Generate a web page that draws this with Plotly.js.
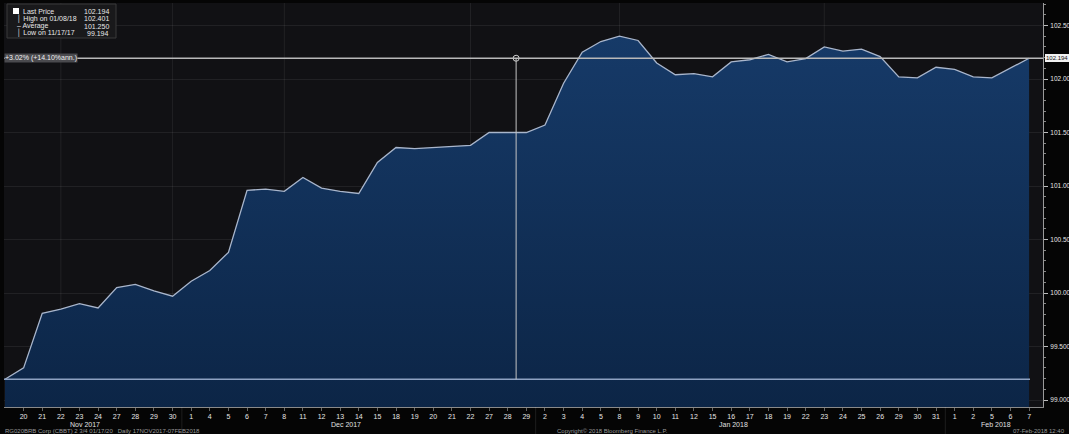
<!DOCTYPE html>
<html>
<head>
<meta charset="utf-8">
<script src="https://cdn.plot.ly/plotly-3.0.1.min.js"></script>
<style>
html,body{margin:0;padding:0;background:#050505;}
#chart{width:1069px;height:434px;}
</style>
</head>
<body>
<div id="chart"></div>
<script>
// ---- data ----
const dates = ['2017-11-17','2017-11-20','2017-11-21','2017-11-22','2017-11-23','2017-11-24','2017-11-27','2017-11-28','2017-11-29','2017-11-30',
  '2017-12-01','2017-12-04','2017-12-05','2017-12-06','2017-12-07','2017-12-08','2017-12-11','2017-12-12','2017-12-13','2017-12-14',
  '2017-12-15','2017-12-18','2017-12-19','2017-12-20','2017-12-21','2017-12-22','2017-12-27','2017-12-28','2017-12-29',
  '2018-01-02','2018-01-03','2018-01-04','2018-01-05','2018-01-08','2018-01-09','2018-01-10','2018-01-11','2018-01-12',
  '2018-01-15','2018-01-16','2018-01-17','2018-01-18','2018-01-19','2018-01-22','2018-01-23','2018-01-24','2018-01-25','2018-01-26',
  '2018-01-29','2018-01-30','2018-01-31','2018-02-01','2018-02-02','2018-02-05','2018-02-06','2018-02-07'];
const prices = [99.194, 99.30, 99.81, 99.85, 99.90, 99.86, 100.05, 100.08, 100.02, 99.97,
  100.11, 100.21, 100.38, 100.96, 100.97, 100.95, 101.08, 100.98, 100.95, 100.93,
  101.22, 101.36, 101.35, 101.36, 101.37, 101.38, 101.50, 101.50, 101.50,
  101.57, 101.96, 102.25, 102.35, 102.401, 102.36, 102.15, 102.04, 102.05,
  102.02, 102.16, 102.18, 102.23, 102.16, 102.19, 102.30, 102.26, 102.28, 102.21,
  102.02, 102.01, 102.11, 102.09, 102.02, 102.01, 102.10, 102.194];
const dayLabels = ['', '20','21','22','23','24','27','28','29','30',
  '1','4','5','6','7','8','11','12','13','14',
  '15','18','19','20','21','22','27','28','29',
  '2','3','4','5','8','9','10','11','12',
  '15','16','17','18','19','22','23','24','25','26',
  '29','30','31','1','2','5','6','7'];
const monthLabels = ['Nov 2017','Dec 2017','Jan 2018','Feb 2018'];
const monthLabelPos = [4.3, 18.3, 39.1, 53.2];
const monthBreaks = [9.5, 28.5, 50.5];
const yTickVals = [99.0, 99.5, 100.0, 100.5, 101.0, 101.5, 102.0, 102.5];
const yTickText = ['99.000','99.500','100.00','100.50','101.00','101.50','102.00','102.50'];
const legendNames = ['Last Price','High on 01/08/18','Average','Low on 11/17/17'];
const legendValues = ['102.194','102.401','101.250','99.194'];
const lastPrice = 102.194, lowPrice = 99.194;
const cursorIdx = 27.45;
const vGrid = [3, 9, 15, 25, 33, 44];

const idx = prices.map((_, i) => i);

// pixel helpers (plot area: x 4..1043, y 3..407)
const L = 4, R = 1043, T = 3, B = 407;
const px = x => (x - L) / (R - L);
const py = y => (B - y) / (B - T);

const font = 'Liberation Sans, Arial, sans-serif';

const traces = [
  {
    x: idx, y: prices, type: 'scatter', mode: 'lines',
    line: {color: '#a9b6cc', width: 1.3},
    fill: 'tozeroy',
    fillcolor: '#12315a',
    fillgradient: {type: 'vertical', colorscale: [[0, '#0c2546'], [1, '#163a68']], start: 98.9, stop: 102.4},
    hoverinfo: 'skip', showlegend: false
  },
  {
    x: [cursorIdx], y: [lastPrice], type: 'scatter', mode: 'markers',
    marker: {symbol: 'circle-open', size: 6, color: '#d0d0d0', line: {width: 1}},
    hoverinfo: 'skip', showlegend: false
  }
];

const shapes = [];
vGrid.forEach(v => shapes.push({type: 'line', xref: 'x', yref: 'paper', x0: v, x1: v, y0: 0, y1: 1,
  line: {color: 'rgba(255,255,255,0.07)', width: 1}, layer: 'below'}));
monthBreaks.forEach(v => shapes.push({type: 'line', xref: 'x', yref: 'paper', x0: v, x1: v, y0: 0, y1: -0.075,
  line: {color: 'rgba(255,255,255,0.10)', width: 1}}));
shapes.push({type: 'line', xref: 'paper', yref: 'y', x0: 0, x1: 1, y0: lastPrice, y1: lastPrice,
  line: {color: '#b9b9b9', width: 1.3}});
shapes.push({type: 'line', xref: 'paper', yref: 'y', x0: 0, x1: px(1030), y0: lowPrice, y1: lowPrice,
  line: {color: '#8ea2c2', width: 1.3}});
shapes.push({type: 'line', xref: 'x', yref: 'y', x0: cursorIdx, x1: cursorIdx, y0: lowPrice, y1: lastPrice,
  line: {color: '#c4c4c4', width: 1}});
// legend box
shapes.push({type: 'rect', xref: 'paper', yref: 'paper', x0: px(7), x1: px(116), y0: py(4), y1: py(38),
  fillcolor: '#19191b', line: {color: '#3a3a3a', width: 1}});
shapes.push({type: 'rect', xref: 'paper', yref: 'paper', x0: px(13), x1: px(19), y0: py(8), y1: py(14),
  fillcolor: '#ffffff', line: {width: 0}});

const annotations = [];
legendNames.forEach((n, i) => {
  annotations.push({xref: 'paper', yref: 'paper', x: px(i === 0 ? 21 : 15), y: py(11 + i * 7.5), xanchor: 'left', yanchor: 'middle',
    text: (i === 0 ? '' : (i === 2 ? '\u2013 ' : '\u2502 ')) + n, showarrow: false, font: {family: font, size: 7, color: '#e8e8e8'}});
  annotations.push({xref: 'paper', yref: 'paper', x: px(111), y: py(11 + i * 7.5), xanchor: 'right', yanchor: 'middle',
    text: legendValues[i], showarrow: false, font: {family: font, size: 7, color: '#e8e8e8'}});
});
annotations.push({xref: 'paper', yref: 'y', x: 0, y: lastPrice, xanchor: 'left', yanchor: 'middle',
  text: '+3.02% (+14.10%ann.)', showarrow: false, bgcolor: '#4a4a4e', borderpad: 0,
  font: {family: font, size: 7, color: '#f0f0f0'}});
annotations.push({xref: 'paper', yref: 'y', x: 1, y: lastPrice, xanchor: 'left', yanchor: 'middle', xshift: 2,
  text: '102.194', showarrow: false, bgcolor: '#f2f2f2', bordercolor: '#f2f2f2', borderpad: 0,
  font: {family: font, size: 6, color: '#111'}});
monthLabels.forEach((m, i) => annotations.push({xref: 'x', yref: 'paper', x: monthLabelPos[i], y: py(424), yanchor: 'middle',
  text: m, showarrow: false, font: {family: font, size: 7, color: '#e0e0e0'}}));
annotations.push({xref: 'paper', yref: 'paper', x: px(3), y: py(431), xanchor: 'left', yanchor: 'middle',
  text: 'RG020BRB Corp (CBBT) 2 3/4 01/17/20   Daily 17NOV2017-07FEB2018', showarrow: false,
  font: {family: font, size: 6, color: '#9a9a9a'}});
annotations.push({xref: 'paper', yref: 'paper', x: px(555), y: py(431), xanchor: 'left', yanchor: 'middle',
  text: 'Copyright\u00a9 2018 Bloomberg Finance L.P.', showarrow: false,
  font: {family: font, size: 6, color: '#9a9a9a'}});
annotations.push({xref: 'paper', yref: 'paper', x: px(1067), y: py(431), xanchor: 'right', yanchor: 'middle',
  text: '07-Feb-2018 12:40', showarrow: false,
  font: {family: font, size: 6, color: '#9a9a9a'}});

const sp = (R - L) / 55.8;
const layout = {
  width: 1069, height: 434,
  margin: {l: L, r: 1069 - R, t: T, b: 434 - B, pad: 0},
  paper_bgcolor: '#050505', plot_bgcolor: '#111114',
  showlegend: false,
  xaxis: {
    range: [-1 / sp, -1 / sp + 55.8],
    tickvals: idx.slice(1), ticktext: dayLabels.slice(1),
    tickfont: {family: font, size: 7, color: '#e6e6e6'},
    ticks: 'outside', ticklen: 3, tickcolor: '#666',
    showgrid: false, zeroline: false,
    showline: true, linecolor: '#8a8a8a', linewidth: 1,
    fixedrange: true
  },
  yaxis: {
    range: [99 - (B - 400) / 107, 99 + (400 - T) / 107],
    side: 'right',
    tickvals: yTickVals, ticktext: yTickText,
    tickfont: {family: font, size: 6.5, color: '#e6e6e6'},
    ticks: 'outside', ticklen: 4, tickcolor: '#bbb', ticklabelstandoff: 1,
    minor: {dtick: 0.1, ticks: 'outside', ticklen: 2, tickcolor: '#888', showgrid: false},
    showgrid: true, gridcolor: 'rgba(255,255,255,0.07)', gridwidth: 1,
    zeroline: false, showline: true, linecolor: '#9a9a9a', linewidth: 1,
    fixedrange: true
  },
  shapes: shapes,
  annotations: annotations
};

Plotly.newPlot('chart', traces, layout, {displayModeBar: false, staticPlot: true});
</script>
</body>
</html>
